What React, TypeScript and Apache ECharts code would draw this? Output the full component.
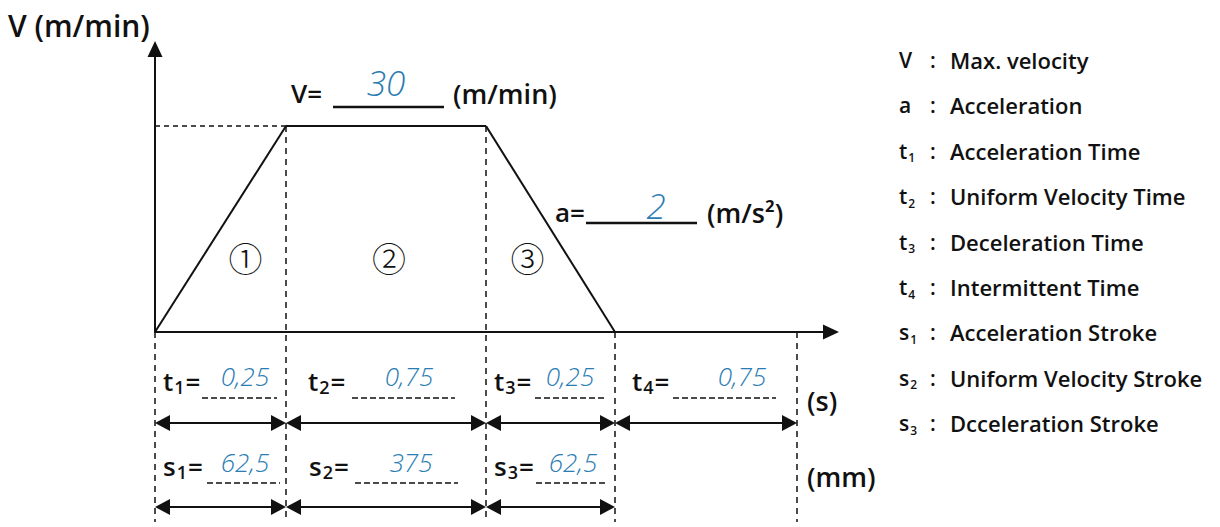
import React, { useEffect, useRef } from "react";
import * as echarts from "echarts";

// ---- data ----
const vMax = 30; // m/min
const accel = 2; // m/s^2
const phaseKeys = ["1", "2", "3", "4"];
const phaseTimes = [0.25, 0.75, 0.25, 0.75]; // s
const phaseStartV = [0, 30, 30, 0];
const phaseEndV = [30, 30, 0, 0];
const strokeKeys = ["1", "2", "3"];
const strokes = [62.5, 375, 62.5]; // mm
const phaseMarks = ["①", "②", "③"];
const legendSym = ["V", "a", "t", "t", "t", "t", "s", "s", "s"];
const legendSub = ["", "", "1", "2", "3", "4", "1", "2", "3"];
const legendText = [
  "Max. velocity",
  "Acceleration",
  "Acceleration Time",
  "Uniform Velocity Time",
  "Deceleration Time",
  "Intermittent Time",
  "Acceleration Stroke",
  "Uniform Velocity Stroke",
  "Dcceleration Stroke",
];

// ---- layout ----
const W = 1220;
const H = 527;
const EDGES = [155, 286, 486, 615, 797];
const AXIS_Y = 332;
const TOP_Y = 126;
const FONT = "Open Sans";
const WEIGHT = 600;
const BLUE = "#2a7db3";
const tLabelX = [163, 308, 494, 632];
const tLine = [[202, 277], [352, 455], [535, 606], [673, 776]];
const tValX = [245, 409, 570, 742];
const sLabelX = [163, 309, 494];
const sLine = [[207, 280], [355, 458], [536, 608]];
const sValX = [245, 411, 573];
const markShift = [25, 3, -23];

const fmt = (v: number) => String(v).replace(".", ",");

function subText(x: number, y: number, main: string, sub: string, size: number, subSize: number, drop: number, tail = "") {
  return {
    type: "text",
    x,
    y,
    style: {
      text: `{m|${main}}` + (sub ? `{s|${sub}}` : "") + (tail ? `{m|${tail}}` : ""),
      align: "left",
      verticalAlign: "middle",
      rich: {
        m: { fontFamily: FONT, fontSize: size, fontWeight: WEIGHT, fill: "#111" },
        s: { fontFamily: FONT, fontSize: subSize, fontWeight: WEIGHT, fill: "#111", padding: [drop * 2, 1, 0, 1] },
      },
    },
  };
}

function text(x: number, y: number, t: string, size: number, opts: any = {}) {
  return {
    type: "text",
    x,
    y,
    style: {
      text: t,
      fontFamily: FONT,
      fontSize: size,
      fontWeight: WEIGHT,
      fill: "#111",
      align: "left",
      verticalAlign: "middle",
      ...opts,
    },
  };
}

function hline(x1: number, x2: number, y: number, width: number, dash?: number[]) {
  return {
    type: "line",
    shape: { x1, y1: y, x2, y2: y },
    style: { stroke: "#111", lineWidth: width, lineDash: dash },
  };
}

function dblArrow(x1: number, x2: number, y: number) {
  const L = 15, h = 8;
  return [
    hline(x1 + 8, x2 - 8, y, 2),
    { type: "polygon", shape: { points: [[x1, y], [x1 + L, y - h], [x1 + L, y + h]] }, style: { fill: "#111" } },
    { type: "polygon", shape: { points: [[x2, y], [x2 - L, y - h], [x2 - L, y + h]] }, style: { fill: "#111" } },
  ];
}

export default function App() {
  const ref = useRef<HTMLDivElement>(null);
  useEffect(() => {
    if (!ref.current) return;
    const chart = echarts.init(ref.current, undefined, { renderer: "svg" });

    const grids: any[] = [
      { left: EDGES[0], right: W - 831, top: 49, bottom: H - AXIS_Y },
    ];
    const axisBase = {
      type: "value", min: 0, max: 1,
      axisLine: { show: true, onZero: false, lineStyle: { color: "#111", width: 2 }, symbol: ["none", "triangle"], symbolSize: [15, 16] },
      axisTick: { show: false }, axisLabel: { show: false }, splitLine: { show: false },
    };
    const xAxes: any[] = [{ gridIndex: 0, ...axisBase }];
    const yAxes: any[] = [{ gridIndex: 0, ...axisBase }];
    const series: any[] = [];
    phaseTimes.forEach((t, i) => {
      grids.push({ left: EDGES[i], width: EDGES[i + 1] - EDGES[i], top: TOP_Y, bottom: H - AXIS_Y });
      xAxes.push({ gridIndex: i + 1, type: "value", min: 0, max: t, show: false });
      yAxes.push({ gridIndex: i + 1, type: "value", min: 0, max: vMax, show: false });
      series.push({
        type: "line",
        xAxisIndex: i + 1,
        yAxisIndex: i + 1,
        data: [[0, phaseStartV[i]], [t, phaseEndV[i]]],
        symbol: "none",
        clip: false,
        silent: true,
        lineStyle: { color: "#111", width: 2 },
        markLine: i === 0 ? {
          silent: true,
          symbol: ["none", "none"],
          label: { show: false },
          lineStyle: { color: "#111", width: 1.5, type: [5, 4] },
          data: [{ yAxis: vMax }],
        } : undefined,
      });
    });

    const graphics: any[] = [];
    // axis title
    graphics.push(text(8, 25, "V (m/min)", 30));
    // V = ...
    graphics.push(text(291, 93, "V=", 26));
    graphics.push(hline(333, 444, 107, 2.5));
    graphics.push(text(386, 82, String(vMax), 35, { fill: BLUE, fontStyle: "italic", fontWeight: 300, align: "center" }));
    graphics.push(text(453, 93, "(m/min)", 27));
    // a = ...
    graphics.push(text(555, 212, "a=", 26));
    graphics.push(hline(586, 697, 223, 2.5));
    graphics.push(text(656, 205, String(accel), 35, { fill: BLUE, fontStyle: "italic", fontWeight: 300, align: "center" }));
    graphics.push(text(707, 212, "(m/s²)", 27));

    // dashed verticals
    const vTop = [0, 1, 2, 3, 4].map((k) => {
      const v = k < phaseTimes.length ? phaseStartV[k] : phaseEndV[phaseTimes.length - 1];
      return v > 0 ? TOP_Y : AXIS_Y;
    });
    EDGES.forEach((x, k) => {
      graphics.push({
        type: "line",
        shape: { x1: x, y1: vTop[k], x2: x, y2: 522 },
        style: { stroke: "#111", lineWidth: 1.5, lineDash: [6, 5] },
      });
    });

    // circled phase marks
    phaseMarks.forEach((m, i) => {
      graphics.push(text((EDGES[i] + EDGES[i + 1]) / 2 + markShift[i], 257, m, 34, {
        fontFamily: "Noto Sans CJK SC", fontWeight: 300, align: "center",
      }));
    });

    // time row
    phaseTimes.forEach((t, i) => {
      graphics.push(subText(tLabelX[i], 381, "t", phaseKeys[i], 26, 18, 6, "="));
      graphics.push(hline(tLine[i][0], tLine[i][1], 398, 1.5, [6, 3]));
      graphics.push(text(tValX[i], 376, fmt(t), 26, { fill: BLUE, fontStyle: "italic", fontWeight: 300, align: "center" }));
      graphics.push(...dblArrow(EDGES[i], EDGES[i + 1], 423));
    });
    graphics.push(text(807, 400, "(s)", 27));

    // stroke row
    strokes.forEach((s, i) => {
      graphics.push(subText(sLabelX[i], 466, "s", strokeKeys[i], 26, 18, 6, "="));
      graphics.push(hline(sLine[i][0], sLine[i][1], 483, 1.5, [6, 3]));
      graphics.push(text(sValX[i], 462, fmt(s), 26, { fill: BLUE, fontStyle: "italic", fontWeight: 300, align: "center" }));
      graphics.push(...dblArrow(EDGES[i], EDGES[i + 1], 507));
    });
    graphics.push(text(807, 476, "(mm)", 27));

    // legend
    legendText.forEach((d, i) => {
      const y = 60 + i * 45.4;
      graphics.push(subText(899, y, legendSym[i], legendSub[i], 21, 12, 7));
      graphics.push(text(930, y, ":", 21));
      graphics.push(text(950, y, d, 22));
    });

    chart.setOption({
      animation: false,
      backgroundColor: "#fff",
      grid: grids,
      xAxis: xAxes,
      yAxis: yAxes,
      series,
      graphic: { elements: graphics },
    });
    return () => chart.dispose();
  }, []);
  return (
    <div
      ref={ref}
      style={{ position: "fixed", left: 0, top: 0, width: W, height: H }}
    />
  );
}
